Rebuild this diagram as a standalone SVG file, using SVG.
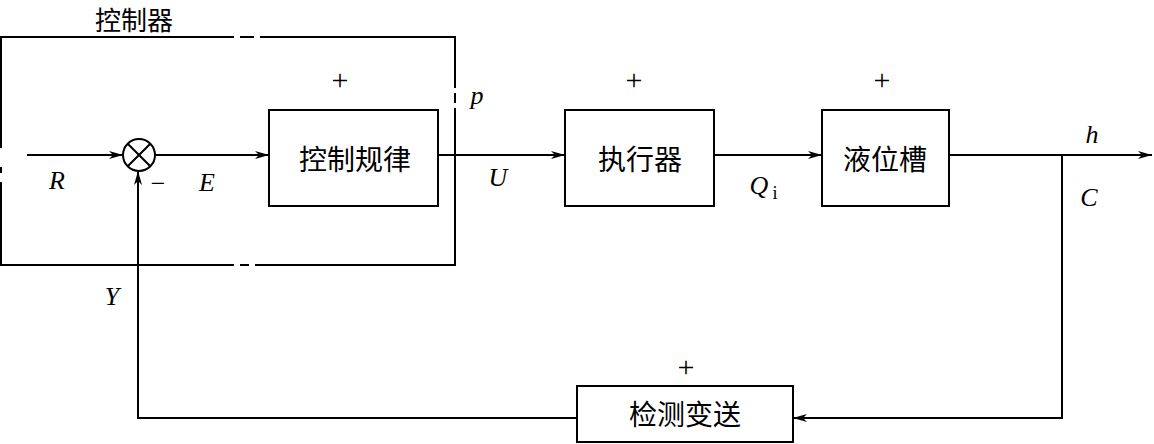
<svg xmlns="http://www.w3.org/2000/svg" width="1154" height="444" viewBox="0 0 1154 444">
<style>
.ln{fill:none;stroke:#000;stroke-width:2}
.bx{fill:#fff;stroke:#000;stroke-width:2}
.cjk{font-family:"Noto Sans CJK SC",sans-serif;font-size:28px;fill:#000;text-anchor:middle}
.var{font-family:"Liberation Serif",serif;font-style:italic;font-size:26px;fill:#000;text-anchor:middle}
.sg{font-family:"Liberation Serif",serif;font-size:30px;fill:#000;text-anchor:middle}
</style>
<defs>
<marker id="ar" markerUnits="userSpaceOnUse" markerWidth="16" markerHeight="10" refX="14" refY="4" orient="auto">
<path d="M0,0 L14,4 L0,8 L4,4 Z" fill="#000"/>
</marker>
</defs>
<rect width="1154" height="444" fill="#fff"/>
<g id="controller">
<path class="ln" d="M1,148 V37 H234 M240,37 H254 M260,37 H455 V88 M455,93 V103 M455,108 V265 H255 M249,265 H240 M234,265 H1 V182 M1,167 V173"/>
<text class="cjk" x="134" y="30" style="font-size:26px">控制器</text>
</g>
<g id="sum">
<circle cx="139" cy="155" r="16" class="bx"/>
<path class="ln" d="M127.7,143.7 L150.3,166.3 M150.3,143.7 L127.7,166.3"/>
<text class="sg" x="158" y="192" style="font-size:26px">−</text>
</g>
<g id="law">
<rect x="269" y="110" width="169" height="96" class="bx"/>
<text class="cjk" x="355" y="170">控制规律</text>
<text class="sg" x="340" y="90">+</text>
</g>
<g id="actuator">
<rect x="565" y="110" width="149" height="96" class="bx"/>
<text class="cjk" x="640" y="170">执行器</text>
<text class="sg" x="634" y="90">+</text>
</g>
<g id="tank">
<rect x="822" y="110" width="127" height="96" class="bx"/>
<text class="cjk" x="885" y="170">液位槽</text>
<text class="sg" x="882" y="90">+</text>
</g>
<g id="sensor">
<rect x="577" y="386" width="216" height="56" class="bx"/>
<text class="cjk" x="685" y="425">检测变送</text>
<text class="sg" x="686" y="377">+</text>
</g>
<g id="connectors">
<path class="ln" d="M27,155 H123" marker-end="url(#ar)"/>
<path class="ln" d="M155,155 H269" marker-end="url(#ar)"/>
<path class="ln" d="M438,155 H565" marker-end="url(#ar)"/>
<path class="ln" d="M714,155 H822" marker-end="url(#ar)"/>
<path class="ln" d="M949,155 H1152" marker-end="url(#ar)"/>
<path class="ln" d="M1062,155 V418 H793" marker-end="url(#ar)"/>
<path class="ln" d="M577,418 H138 V171" marker-end="url(#ar)"/>
</g>
<g id="labels">
<text class="var" x="57" y="189">R</text>
<text class="var" x="207" y="191">E</text>
<text class="var" x="477" y="104">p</text>
<text class="var" x="498" y="186">U</text>
<text class="var" x="759" y="194">Q</text>
<text class="sg" x="775" y="199" style="font-size:18px;font-style:normal">i</text>
<text class="var" x="1092" y="143">h</text>
<text class="var" x="1089" y="206">C</text>
<text class="var" x="112" y="305">Y</text>
</g>
</svg>
